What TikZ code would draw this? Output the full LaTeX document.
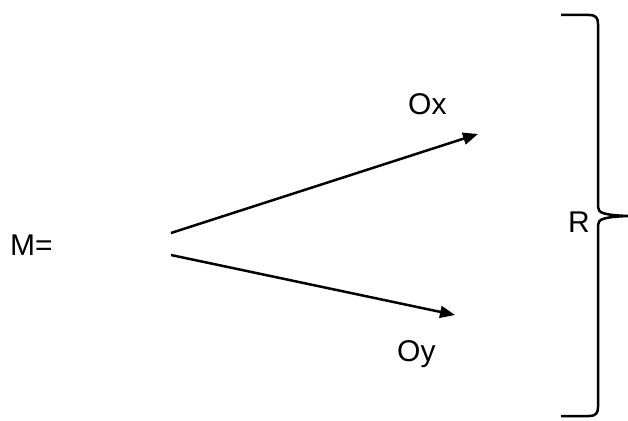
\documentclass[tikz,border=0pt]{standalone}
\usepackage{fontspec}
\setmainfont{Liberation Sans}
\usetikzlibrary{arrows.meta}
\tikzset{
  lbl/.style={inner sep=0pt, anchor=base west, font=\fontsize{30}{36}\selectfont},
  arr/.style={line width=2.5pt, -{Triangle[length=15pt,width=12pt]}},
  brc/.style={line width=2.5pt, line join=round}
}
\begin{document}
\begin{tikzpicture}[x=1pt,y=-1pt]
\useasboundingbox (0,0) rectangle (628,420);
\node[lbl] (m) at (10,255) {M=};
\node[lbl] (ox) at (408,114) {Ox};
\node[lbl] (oy) at (397,361) {Oy};
\node[lbl] (r) at (568,232) {R};
\coordinate (a1) at (171,233);
\coordinate (b1) at (478,134);
\coordinate (a2) at (171,255);
\coordinate (b2) at (455,315);
\draw[arr] (a1) -- (b1);
\draw[arr] (a2) -- (b2);
\coordinate (bt) at (561,15);
\coordinate (bb) at (561,416);
\coordinate (tip) at (628,216);
\draw[brc] (bt) -- (589,15) .. controls (596,15) and (598,18) .. (598,24)
  -- (598,207) .. controls (598,213) and (604,215) .. (tip)
  .. controls (604,217) and (598,219) .. (598,225)
  -- (598,407) .. controls (598,413) and (596,416) .. (589,416) -- (bb);
\end{tikzpicture}
\end{document}
